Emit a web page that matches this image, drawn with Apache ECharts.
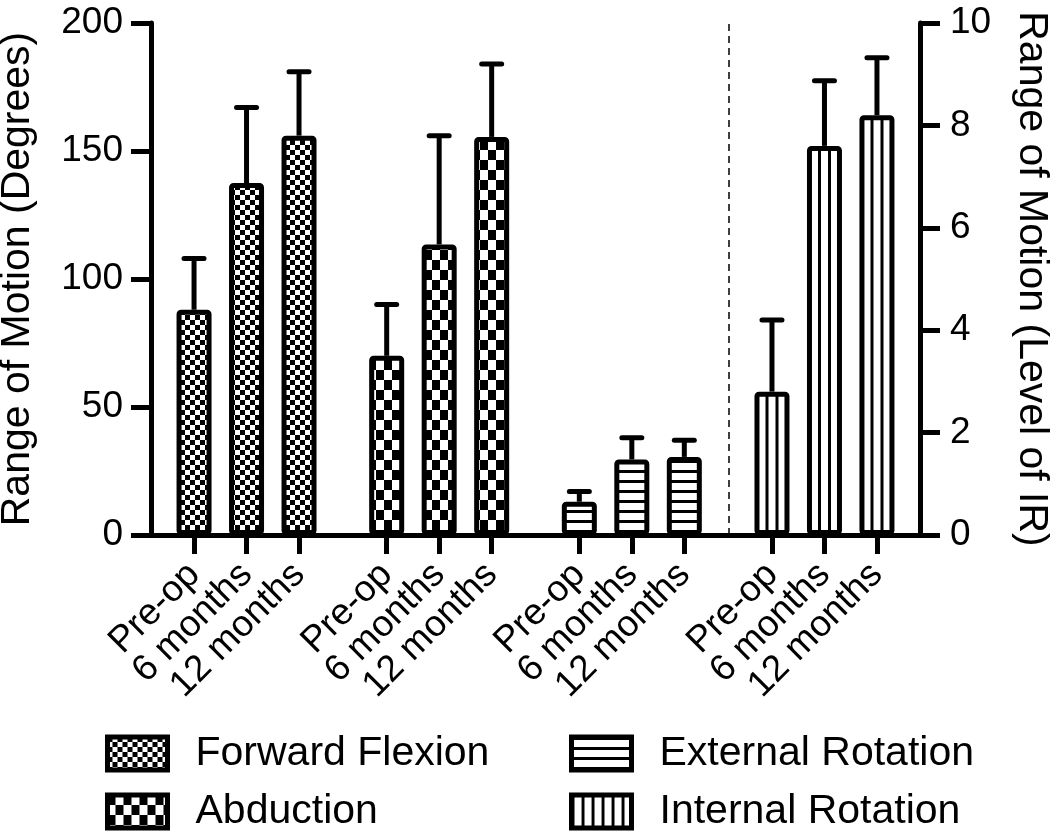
<!DOCTYPE html>
<html><head><meta charset="utf-8">
<script src="https://cdn.jsdelivr.net/npm/echarts@6/dist/echarts.min.js"></script>
<style>html,body{margin:0;padding:0;background:#fff}#c{width:1050px;height:833px}</style>
</head><body><div id="c"></div>
<script>
// ---------- data ----------
const timepoints = ['Pre-op', '6 months', '12 months'];
const seriesNames = ['Forward Flexion', 'Abduction', 'External Rotation', 'Internal Rotation'];
const forwardFlexion     = [88, 137.5, 156];
const forwardFlexionSD   = [20, 29.5, 25];
const abduction          = [70, 113.5, 155.5];
const abductionSD        = [20, 42.5, 28.5];
const externalRotation   = [13, 29.5, 30.5];
const externalRotationSD = [4, 8.5, 6.5];
const internalRotation   = [2.8, 7.6, 8.2];     // level of IR, right axis
const internalRotationSD = [1.4, 1.27, 1.12];
const leftAxisTicks  = [0, 50, 100, 150, 200];
const rightAxisTicks = [0, 2, 4, 6, 8, 10];

// ---------- layout helpers ----------
const GROUP_STEP = 3.67;               // one group = 3 bars + gap
const pos = (g, i) => g * GROUP_STEP + i;
const FONT = "'Liberation Sans', Arial, Helvetica, sans-serif";
const X_MIN = -0.82, X_MAX = 13.83;

function makeCanvas(w, h, draw) {
  const c = document.createElement('canvas');
  c.width = w; c.height = h;
  const ctx = c.getContext('2d');
  ctx.fillStyle = '#fff'; ctx.fillRect(0, 0, w, h);
  ctx.fillStyle = '#000'; draw(ctx, w, h);
  return c;
}
const canvases = [
  makeCanvas(10, 10, (x) => { x.fillRect(0, 0, 5, 5); x.fillRect(5, 5, 5, 5); }),
  makeCanvas(16, 20, (x) => { x.fillRect(0, 0, 8, 10); x.fillRect(8, 10, 8, 10); }),
  makeCanvas(10, 10, (x) => { x.fillRect(0, 0, 10, 3); }),
  makeCanvas(10, 10, (x) => { x.fillRect(0, 0, 3, 10); })
];
const patterns = canvases.map(c => ({ image: c, repeat: 'repeat' }));

const values = [forwardFlexion, abduction, externalRotation, internalRotation];
const sds = [forwardFlexionSD, abductionSD, externalRotationSD, internalRotationSD];
const axisOf = [0, 0, 0, 1];

const tickPositions = [];
const tickLabels = [];
for (let g = 0; g < 4; g++) for (let i = 0; i < 3; i++) { tickPositions.push(pos(g, i)); tickLabels.push(timepoints[i]); }
// blank labels at both ends (hidden) so the min/max-label rule never hides a real label
const labelPositions = [X_MIN].concat(tickPositions, [X_MAX]);
const dividerX = (pos(2, 2) + pos(3, 0)) / 2;

function errorRender(params, api) {
  const x = api.value(0), lo = api.value(1), hi = api.value(2);
  const p0 = api.coord([x, lo]), p1 = api.coord([x, hi]);
  const cap = 10;
  return {
    type: 'group',
    children: [
      { type: 'line', shape: { x1: p0[0], y1: p0[1], x2: p1[0], y2: p1[1] }, style: { stroke: '#000', lineWidth: 5 } },
      { type: 'line', shape: { x1: p1[0] - cap, y1: p1[1], x2: p1[0] + cap, y2: p1[1] }, style: { stroke: '#000', lineWidth: 5, lineCap: 'round' } }
    ]
  };
}

const series = [];
for (let s = 0; s < 4; s++) {
  const bar = {
    name: seriesNames[s], type: 'bar', yAxisIndex: axisOf[s],
    data: values[s].map((v, i) => [pos(s, i), v]),
    barWidth: 35, barGap: '-100%',
    itemStyle: { color: patterns[s], borderColor: '#000', borderWidth: 5, borderRadius: 2 },
    z: 2
  };
  if (s === 2) {
    bar.markLine = {
      silent: true, symbol: ['none', 'none'], label: { show: false },
      lineStyle: { type: [7, 5], color: '#000', width: 1.5 },
      data: [{ xAxis: dividerX }]
    };
  }
  series.push(bar);
}
for (let s = 0; s < 4; s++) {
  series.push({
    type: 'custom', yAxisIndex: axisOf[s], z: 3, clip: false,
    renderItem: errorRender,
    encode: { x: 0, y: [1, 2] },
    data: values[s].map((v, i) => [pos(s, i), v, v + sds[s][i]])
  });
}

const chart = echarts.init(document.getElementById('c'), null, { renderer: 'canvas' });
const yCommon = {
  type: 'value',
  axisLine: { show: true, onZero: false, lineStyle: { color: '#000', width: 5 } },
  axisTick: { show: true, length: 20, lineStyle: { color: '#000', width: 5 } },
  splitLine: { show: false },
  nameLocation: 'middle',
  nameTextStyle: { color: '#000', fontSize: 41, fontFamily: FONT }
};
chart.setOption({
  animation: false,
  backgroundColor: '#fff',
  textStyle: { fontFamily: FONT },
  grid: { left: 151, right: 130, top: 23, bottom: 298, containLabel: false, outerBoundsMode: 'none' },
  legend: [
    {
      data: [seriesNames[0], seriesNames[1]], orient: 'vertical', left: 105, top: 733, padding: 0,
      itemWidth: 60, itemHeight: 33, itemGap: 17, icon: 'rect',
      itemStyle: { borderColor: '#000', borderWidth: 5 },
      textStyle: { color: '#000', fontSize: 41, fontFamily: FONT, padding: [0, 0, 0, 23] }
    },
    {
      data: [seriesNames[2], seriesNames[3]], orient: 'vertical', left: 569, top: 733, padding: 0,
      itemWidth: 60, itemHeight: 33, itemGap: 17, icon: 'rect',
      itemStyle: { borderColor: '#000', borderWidth: 5 },
      textStyle: { color: '#000', fontSize: 41, fontFamily: FONT, padding: [0, 0, 0, 23] }
    }
  ],
  xAxis: {
    type: 'value', min: X_MIN, max: X_MAX,
    axisLine: { show: true, onZero: false, lineStyle: { color: '#000', width: 5 } },
    axisTick: { show: true, length: 19, lineStyle: { color: '#000', width: 5 }, customValues: tickPositions },
    axisLabel: {
      customValues: labelPositions, rotate: 45, color: '#000', fontSize: 37, fontFamily: FONT, margin: 34,
      hideOverlap: false, showMinLabel: false, showMaxLabel: false,
      formatter: (v) => {
        if (v <= X_MIN + 1e-6 || v >= X_MAX - 1e-6) return ' ';
        let best = 0;
        tickPositions.forEach((p, k) => { if (Math.abs(p - v) < Math.abs(tickPositions[best] - v)) best = k; });
        return tickLabels[best];
      }
    },
    splitLine: { show: false }
  },
  yAxis: [
    Object.assign({}, yCommon, {
      min: leftAxisTicks[0], max: leftAxisTicks[leftAxisTicks.length - 1], interval: 50,
      position: 'left', name: 'Range of Motion (Degrees)', nameRotate: 90, nameGap: 113,
      axisLabel: { color: '#000', fontSize: 37, fontFamily: FONT, margin: 28 }
    }),
    Object.assign({}, yCommon, {
      min: rightAxisTicks[0], max: rightAxisTicks[rightAxisTicks.length - 1], interval: 2,
      position: 'right', name: 'Range of Motion (Level of IR)', nameRotate: -90, nameGap: 91,
      axisLabel: { color: '#000', fontSize: 37, fontFamily: FONT, margin: 30 }
    })
  ],
  series: series
});

// align the vertical-stripe pattern of each Internal Rotation bar to its centre (lines at centre ± 5px)
const irItems = internalRotation.map((v, i) => {
  const px = chart.convertToPixel({ xAxisIndex: 0 }, pos(3, i));
  const off = ((px - 5 - 1.5) % 10 + 10) % 10;
  return { value: [pos(3, i), v], itemStyle: { color: { image: canvases[3], repeat: 'repeat', x: off, y: 0 } } };
});
chart.setOption({ series: [{}, {}, {}, { data: irItems }] });
</script>
</body></html>
